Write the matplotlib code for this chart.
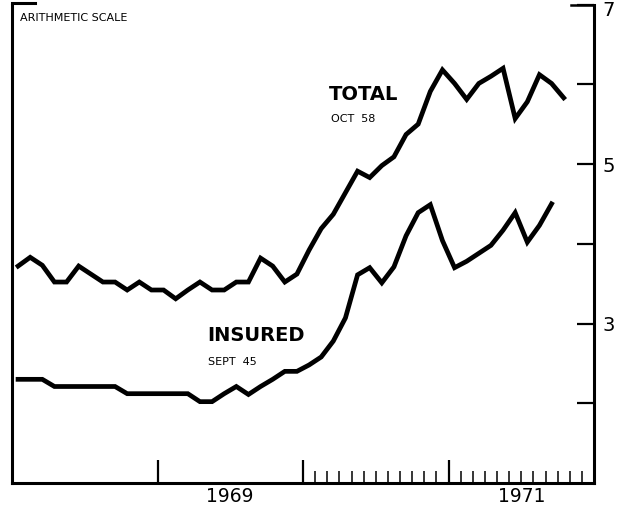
import numpy as np
import matplotlib
matplotlib.use("Agg")
import matplotlib.pyplot as plt

# Monthly values, Jan 1968 onward (thousands, arithmetic scale)
total = [3.72, 3.83, 3.73, 3.52, 3.52, 3.72, 3.62, 3.52, 3.52, 3.42, 3.52, 3.42,
         3.42, 3.31, 3.42, 3.52, 3.42, 3.42, 3.52, 3.52, 3.82, 3.72, 3.52, 3.62,
         3.92, 4.19, 4.37, 4.64, 4.91, 4.83, 4.98, 5.09, 5.37, 5.50, 5.91, 6.18,
         6.01, 5.81, 6.01, 6.10, 6.20, 5.57, 5.78, 6.12, 6.01, 5.83]
insured = [2.30, 2.30, 2.30, 2.21, 2.21, 2.21, 2.21, 2.21, 2.21, 2.12, 2.12, 2.12,
           2.12, 2.12, 2.12, 2.02, 2.02, 2.12, 2.21, 2.11, 2.21, 2.30, 2.40, 2.40,
           2.48, 2.58, 2.78, 3.07, 3.61, 3.70, 3.51, 3.71, 4.10, 4.39, 4.49, 4.04,
           3.70, 3.78, 3.88, 3.98, 4.17, 4.39, 4.02, 4.23, 4.50]
year_ticks = [1969, 1970, 1971]
year_labels = ["1969", "1971"]
y_ticks = [2, 3, 4, 5, 6, 7]
y_labels = ["", "3", "", "5", "", ""]

x_total = 1968 + (np.arange(len(total)) + 0.5) / 12
x_ins = 1968 + (np.arange(len(insured)) + 0.5) / 12

fig = plt.figure(figsize=(6.25, 5.11), dpi=100)
ax = fig.add_axes([12/625, 1 - 483/511, (594-12)/625, (483-4.5)/511])
ax.plot(x_total, total, color="black", lw=3.4, solid_joinstyle="miter")
ax.plot(x_ins, insured, color="black", lw=3.4, solid_joinstyle="miter")

ax.set_xlim(1968, 1972)
ax.set_ylim(1, 7)

for s in ["left", "right", "bottom"]:
    ax.spines[s].set_linewidth(2.2)
ax.spines["top"].set_visible(False)

# x ticks
ax.set_xticks(year_ticks)
ax.set_xticklabels([""] * len(year_ticks))
minor = [1970 + m / 12 for m in range(1, 24) if m != 12]
ax.set_xticks(minor, minor=True)
ax.tick_params(axis="x", which="major", direction="in", length=16.5, width=1.6, bottom=True)
ax.tick_params(axis="x", which="minor", direction="in", length=9, width=1.1)
for yr, lab in zip([1969.5, 1971.5], year_labels):
    ax.text(yr, -0.008, lab, transform=ax.get_xaxis_transform(), ha="center", va="top",
            fontsize=13.5, family="DejaVu Sans")

# y ticks on right
ax.yaxis.tick_right()
ax.set_yticks(y_ticks)
ax.set_yticklabels(y_labels, fontsize=14)
ax.tick_params(axis="y", which="major", direction="in", length=12, width=1.6, pad=6,
               left=False, right=True)
ax.text(1.015, 7.045, "7", transform=ax.get_yaxis_transform(), fontsize=14,
        ha="left", va="top")
# longer tick at top right
ax.plot([0.96, 1.0], [7, 7], transform=ax.get_yaxis_transform(), color="black",
        lw=1.8, clip_on=False)

# small top-left corner segment
ax.plot([0, 0.04], [1.003, 1.003], transform=ax.transAxes, color="black", lw=2.2, clip_on=False)

ax.text(0.013, 0.983, "ARITHMETIC SCALE", transform=ax.transAxes, fontsize=8,
        ha="left", va="top")
ax.text(1970.18, 5.87, "TOTAL", fontsize=14, fontweight="bold", ha="left", va="center")
ax.text(1970.19, 5.57, "OCT  58", fontsize=8, ha="left", va="center")
ax.text(1969.34, 2.85, "INSURED", fontsize=14, fontweight="bold", ha="left", va="center")
ax.text(1969.35, 2.52, "SEPT  45", fontsize=8, ha="left", va="center")

fig.savefig("out.png", dpi=100)
